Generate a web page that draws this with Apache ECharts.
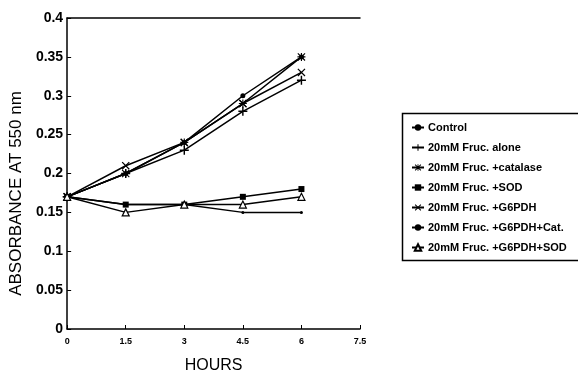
<!DOCTYPE html>
<html>
<head>
<meta charset="utf-8">
<script src="https://cdn.jsdelivr.net/npm/echarts@6/dist/echarts.min.js"></script>
<style>
  html, body { margin: 0; padding: 0; background: #fff; }
  #chart { width: 578px; height: 379px; }
</style>
</head>
<body>
<div id="chart"></div>
<script>
const hours = [0, 1.5, 3, 4.5, 6]
const xTicks = ['0', '1.5', '3', '4.5', '6', '7.5']

const control = [0.17, 0.16, 0.16, 0.15, 0.15]
const frucAlone = [0.17, 0.20, 0.23, 0.28, 0.32]
const frucCatalase = [0.17, 0.20, 0.24, 0.29, 0.35]
const frucSod = [0.17, 0.16, 0.16, 0.17, 0.18]
const frucG6pdh = [0.17, 0.21, 0.24, 0.29, 0.33]
const frucG6pdhCat = [0.17, 0.20, 0.24, 0.30, 0.35]
const frucG6pdhSod = [0.17, 0.15, 0.16, 0.16, 0.17]

const names = [
  'Control',
  '20mM Fruc. alone',
  '20mM Fruc. +catalase',
  '20mM Fruc. +SOD',
  '20mM Fruc. +G6PDH',
  '20mM Fruc. +G6PDH+Cat.',
  '20mM Fruc. +G6PDH+SOD'
]
const values = [control, frucAlone, frucCatalase, frucSod, frucG6pdh, frucG6pdhCat, frucG6pdhSod]

// marker shapes, drawn filled so they don't need a stroke
const plus = 'path://M4.2,0H5.8V10H4.2Z M0,4.2H10V5.8H0Z'
const cross = 'path://M0,1.1L1.1,0L10,8.9L8.9,10Z M8.9,0L10,1.1L1.1,10L0,8.9Z'
const star = 'path://M4.3,0H5.7V10H4.3Z M0,4.3H10V5.7H0Z M0,1L1,0L10,9L9,10Z M9,0L10,1L1,10L0,9Z'
const markers = [
  { symbol: 'circle', size: 3 },
  { symbol: plus, size: 9 },
  { symbol: star, size: 8 },
  { symbol: 'rect', size: 6 },
  { symbol: cross, size: 8 },
  { symbol: 'circle', size: 5 },
  { symbol: 'triangle', size: 7, empty: true }
]

const chart = echarts.init(document.getElementById('chart'))

chart.setOption({
  animation: false,
  textStyle: { fontFamily: 'Liberation Sans, Arial, sans-serif' },
  grid: { left: 62, right: 218, top: 18, bottom: 45 },
  // legend frame runs off the right edge in the original
  graphic: [{
    type: 'rect',
    left: 400,
    top: 111,
    shape: { width: 220, height: 147 },
    style: { fill: 'none', stroke: '#000', lineWidth: 1.5 },
    silent: true
  }],
  legend: {
    left: 400,
    top: 111,
    orient: 'vertical',
    itemWidth: 12,
    itemHeight: 8,
    itemGap: 9,
    padding: [11, 4, 9, 11],
    textStyle: { fontSize: 11, fontWeight: 'bold', color: '#000', padding: [0, 0, 0, -1] },
    data: names
  },
  xAxis: [
    {
      type: 'value',
      min: 0,
      max: 7.5,
      interval: 1.5,
      name: 'HOURS',
      nameLocation: 'middle',
      nameGap: 29,
      nameTextStyle: { fontSize: 16, color: '#000' },
      axisLine: { show: true, lineStyle: { color: '#000', width: 1.5 } },
      axisTick: { show: true, inside: true, length: 4, lineStyle: { color: '#000' } },
      axisLabel: {
        color: '#000',
        fontSize: 9,
        fontWeight: 'bold',
        margin: 8,
        formatter: (v) => xTicks[Math.round(v / 1.5)]
      },
      splitLine: { show: false }
    },
    {
      type: 'value',
      position: 'top',
      min: 0,
      max: 7.5,
      axisLine: { show: true, lineStyle: { color: '#000', width: 1.5 } },
      axisTick: { show: false },
      axisLabel: { show: false },
      splitLine: { show: false }
    }
  ],
  yAxis: {
    type: 'value',
    min: 0,
    max: 0.4,
    interval: 0.05,
    name: 'ABSORBANCE AT 550 nm',
    nameLocation: 'middle',
    nameGap: 36,
    nameTextStyle: { fontSize: 17, color: '#000', padding: [0, 40, 0, 0] },
    axisLine: { show: true, lineStyle: { color: '#000', width: 1.5 } },
    axisTick: { show: true, inside: true, length: 4, lineStyle: { color: '#000' } },
    axisLabel: { color: '#000', fontSize: 14, fontWeight: 'bold', margin: 4 },
    splitLine: { show: false }
  },
  series: names.map((name, i) => ({
    name,
    type: 'line',
    data: hours.map((h, j) => [h, values[i][j]]),
    symbol: markers[i].symbol,
    symbolSize: markers[i].size,
    showAllSymbol: true,
    lineStyle: { color: '#000', width: 1.5 },
    itemStyle: markers[i].empty
      ? { color: '#fff', borderColor: '#000', borderWidth: 1.2 }
      : { color: '#000', borderColor: '#000', borderWidth: 0 },
    emphasis: { disabled: true }
  }))
})
</script>
</body>
</html>
